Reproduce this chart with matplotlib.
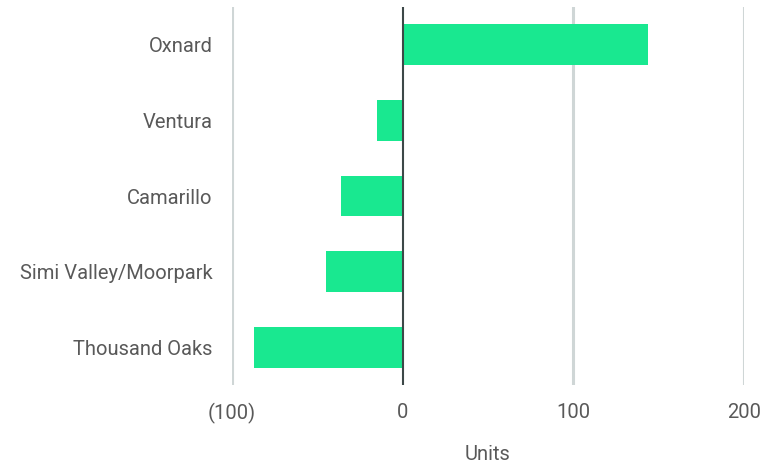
import matplotlib.pyplot as plt

# Net change in units by submarket
cities = ['Oxnard', 'Ventura', 'Camarillo', 'Simi Valley/Moorpark', 'Thousand Oaks']
units = [144, -15, -36, -45, -87]

x_ticks = [-100, 0, 100, 200]
x_tick_labels = ['(100)', '0', '100', '200']

bar_color = '#19e890'
grid_color = '#cfd6d6'
zero_color = '#3d4848'
text_color = '#595959'

plt.rcParams['font.family'] = ['Roboto', 'DejaVu Sans']

fig = plt.figure(figsize=(7.81, 4.66), dpi=100)
ax = fig.add_axes([232 / 781, 1 - 385 / 466, 512 / 781, 378 / 466])

ypos = range(len(cities))
ax.barh(ypos, units, height=0.54, color=bar_color, zorder=2)

ax.set_xlim(-100, 200)
ax.set_ylim(4.5, -0.5)

for xv in x_ticks:
    if xv == 0:
        ax.axvline(xv, color=zero_color, linewidth=1.5, zorder=3)
    else:
        ax.axvline(xv, color=grid_color, linewidth=2.2, zorder=1)

ax.set_xticks(x_ticks)
ax.set_xticklabels(x_tick_labels)
ax.set_yticks(list(ypos))
ax.set_yticklabels(cities)
ax.tick_params(axis='both', length=0, labelsize=14.5, colors=text_color)
ax.tick_params(axis='x', pad=13)
ax.tick_params(axis='y', pad=14)

ax.set_xlabel('Units', fontsize=14.5, color=text_color, labelpad=15)

for spine in ax.spines.values():
    spine.set_visible(False)

fig.savefig('out.png', dpi=100)
